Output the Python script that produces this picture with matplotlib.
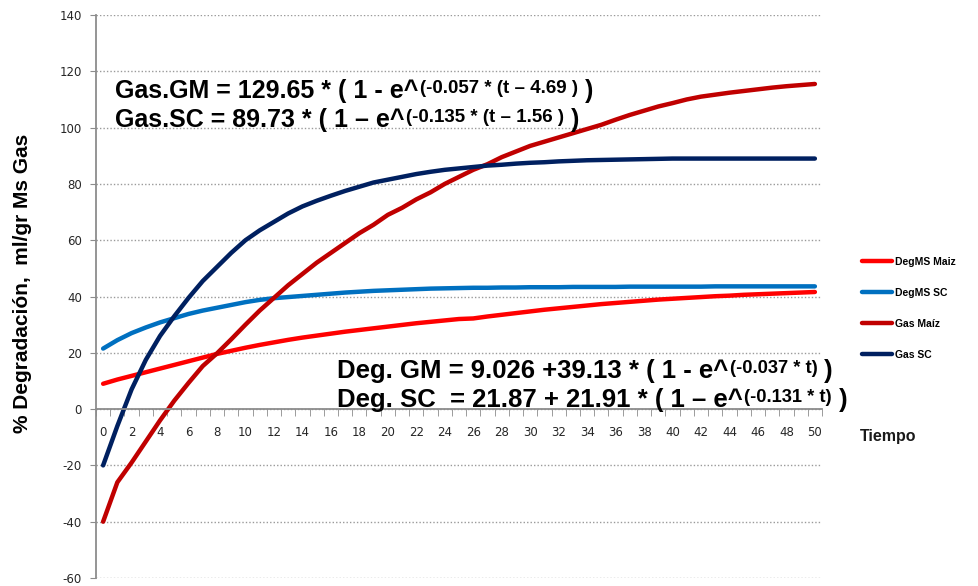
import matplotlib
matplotlib.use('Agg')
import matplotlib.pyplot as plt
from matplotlib.ticker import FixedLocator

plt.rcParams['font.family'] = ['Liberation Sans', 'DejaVu Sans']
plt.rcParams['axes.unicode_minus'] = False

# Tiempo (horas)
tiempo = list(range(0, 51))

# values
deg_maiz = [9.0, 10.5, 11.8, 13.1, 14.4, 15.7, 17.0, 18.3, 19.6, 20.7,
            21.8, 22.8, 23.7, 24.6, 25.4, 26.1, 26.8, 27.5, 28.1, 28.7,
            29.3, 29.9, 30.5, 31.0, 31.5, 32.0, 32.2, 32.9, 33.5, 34.1,
            34.7, 35.3, 35.8, 36.3, 36.8, 37.3, 37.7, 38.1, 38.5, 38.9,
            39.2, 39.5, 39.8, 40.1, 40.3, 40.6, 40.8, 41.0, 41.2, 41.4, 41.6]
deg_sc = [21.5, 24.5, 27.0, 29.0, 30.8, 32.3, 33.8, 35.0, 36.0, 37.0,
          38.0, 38.8, 39.4, 39.8, 40.2, 40.6, 41.0, 41.4, 41.7, 42.0,
          42.2, 42.4, 42.6, 42.8, 42.9, 43.0, 43.1, 43.1, 43.2, 43.2,
          43.3, 43.3, 43.3, 43.4, 43.4, 43.4, 43.4, 43.5, 43.5, 43.5,
          43.5, 43.5, 43.5, 43.6, 43.6, 43.6, 43.6, 43.6, 43.6, 43.6, 43.6]
gas_maiz = [-40.0, -26.0, -19.0, -11.5, -4.0, 3.0, 9.3, 15.3, 19.8, 24.8,
            30.0, 35.0, 39.5, 44.0, 48.0, 52.0, 55.5, 59.0, 62.5, 65.5,
            69.0, 71.5, 74.5, 77.0, 80.0, 82.5, 85.0, 87.0, 89.5, 91.5,
            93.5, 95.0, 96.5, 98.0, 99.5, 101.0, 102.8, 104.5, 106.0, 107.5,
            108.7, 110.0, 111.0, 111.7, 112.4, 113.0, 113.6, 114.2, 114.7, 115.1, 115.5]
gas_sc = [-20.0, -6.0, 7.0, 17.5, 26.0, 33.0, 39.5, 45.5, 50.5, 55.5,
          60.0, 63.5, 66.5, 69.5, 72.0, 74.0, 75.8, 77.5, 79.0, 80.5,
          81.5, 82.5, 83.5, 84.3, 85.0, 85.5, 86.0, 86.5, 86.8, 87.2,
          87.5, 87.7, 88.0, 88.2, 88.4, 88.5, 88.6, 88.7, 88.8, 88.9,
          89.0, 89.0, 89.0, 89.0, 89.0, 89.0, 89.0, 89.0, 89.0, 89.0, 89.0]

series = [
    ('DegMS Maiz', deg_maiz, '#FF0000'),
    ('DegMS SC', deg_sc, '#0070C0'),
    ('Gas Maíz', gas_maiz, '#C00000'),
    ('Gas SC', gas_sc, '#002060'),
]

fig = plt.figure(figsize=(9.79, 5.86), dpi=100)
ax = fig.add_axes([96 / 979, 8 / 586, 726 / 979, 563 / 586])

for name, vals, col in series:
    ax.plot(tiempo, vals, color=col, lw=3.2, label=name, solid_capstyle='round')

ax.set_xlim(-0.5, 50.5)
ax.set_ylim(-60, 140)
ax.set_yticks(range(-60, 141, 20))
ax.yaxis.grid(True, linestyle=(0, (1, 1.5)), color='#9a9a9a', lw=1)
ax.set_axisbelow(True)

for s in ['top', 'right']:
    ax.spines[s].set_visible(False)
ax.spines['bottom'].set_position(('data', 0))
for s in ['bottom', 'left']:
    ax.spines[s].set_color('#8c8c8c')
    ax.spines[s].set_linewidth(1.3)

ax.set_xticks(range(0, 51, 2))
ax.xaxis.set_minor_locator(FixedLocator([k - 0.5 for k in range(52)]))
ax.tick_params(axis='x', which='major', length=0, pad=12)
ax.tick_params(axis='x', which='minor', length=5, direction='out', color='#8c8c8c')
ax.tick_params(axis='y', length=4, color='#8c8c8c', pad=6)
for lab in ax.get_xticklabels() + ax.get_yticklabels():
    lab.set_fontfamily('DejaVu Sans')
    lab.set_fontsize(8.5)
    lab.set_color('#262626')

ax.set_ylabel('% Degradación,  ml/gr Ms Gas', fontsize=15, fontweight='bold')
ax.yaxis.set_label_coords(-64 / 726, 0.524)

fig.text(860 / 979, 1 - 436 / 586, 'Tiempo', fontsize=11.5, fontweight='bold',
         va='center', ha='left', color='#1a1a1a')

ax.legend(loc='upper left', bbox_to_anchor=(862 / 979, 1 - 257 / 586),
          bbox_transform=fig.transFigure, frameon=False,
          prop={'weight': 'bold', 'size': 7.5}, handlelength=2.9,
          handletextpad=0.3, labelspacing=2.0, borderpad=0, borderaxespad=0)


def equation(x, y, main, sup, size=18.5, supsize=13.5, rise=4):
    t1 = fig.text(x / 979, 1 - y / 586, main, fontsize=size, fontweight='bold',
                  ha='left', va='baseline')
    t2 = ax.annotate(sup, xy=(1, 0), xycoords=t1, xytext=(1, rise),
                     textcoords='offset points', fontsize=supsize,
                     fontweight='bold', ha='left', va='bottom')
    ax.annotate(' )', xy=(1, 0), xycoords=(t2, t1), fontsize=size,
                fontweight='bold', ha='left', va='bottom')


equation(115, 98, 'Gas.GM = 129.65 * ( 1 - e^', '(-0.057 * (t – 4.69 )', size=18)
equation(115, 127, 'Gas.SC = 89.73 * ( 1 – e^', '(-0.135 * (t – 1.56 )', size=18)
equation(337, 378, 'Deg. GM = 9.026 +39.13 * ( 1 - e^', '(-0.037 * t)', supsize=13.2)
equation(337, 407, 'Deg. SC  = 21.87 + 21.91 * ( 1 – e^', '(-0.131 * t)', supsize=13.2)

fig.savefig('out.png', dpi=100)
